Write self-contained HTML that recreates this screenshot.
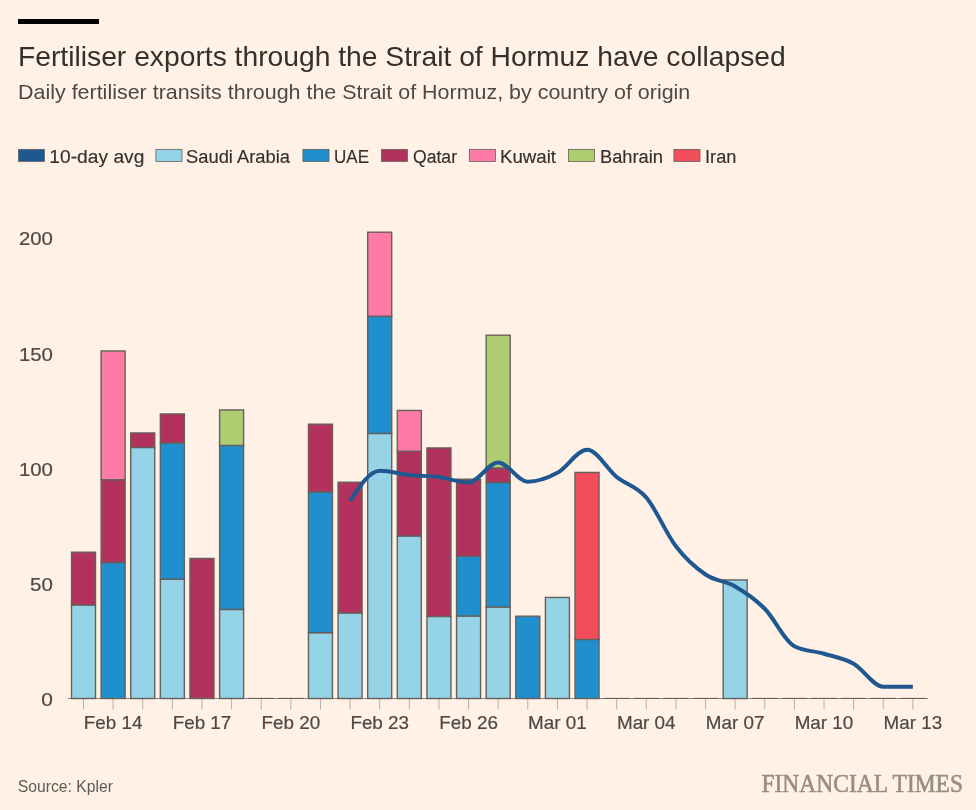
<!DOCTYPE html><html><head><meta charset="utf-8"><title>Fertiliser exports through the Strait of Hormuz have collapsed</title>
<style>html,body{margin:0;padding:0;background:#FFF1E5}svg{display:block}text{font-family:"Liberation Sans",sans-serif}.ft{font-family:"Liberation Serif",serif}</style></head><body>
<svg width="976" height="810" viewBox="0 0 976 810">
<rect width="976" height="810" fill="#FFF1E5"/>
<rect x="18" y="19" width="81" height="5" fill="#000"/>
<text x="18" y="65.6" font-size="27.8" fill="#33302E" textLength="767.7" lengthAdjust="spacingAndGlyphs">Fertiliser exports through the Strait of Hormuz have collapsed</text>
<text x="18" y="98.5" font-size="19.8" fill="#4D4845" textLength="672.3" lengthAdjust="spacingAndGlyphs">Daily fertiliser transits through the Strait of Hormuz, by country of origin</text>
<rect x="18.4" y="149.35" width="26.1" height="12.05" fill="#1F5791" stroke="#66605C" stroke-width="0.8"/>
<text x="49.35" y="162.5" font-size="18.8" fill="#33302E" stroke="#33302E" stroke-width="0.15" textLength="95.0" lengthAdjust="spacingAndGlyphs">10-day avg</text>
<rect x="155.9" y="149.35" width="26.1" height="12.05" fill="#95D3E6" stroke="#66605C" stroke-width="0.8"/>
<text x="186" y="162.5" font-size="18.8" fill="#33302E" stroke="#33302E" stroke-width="0.15" textLength="104" lengthAdjust="spacingAndGlyphs">Saudi Arabia</text>
<rect x="302.9" y="149.35" width="26.1" height="12.05" fill="#208FCE" stroke="#66605C" stroke-width="0.8"/>
<text x="334" y="162.5" font-size="18.8" fill="#33302E" stroke="#33302E" stroke-width="0.15" textLength="35" lengthAdjust="spacingAndGlyphs">UAE</text>
<rect x="381.4" y="149.35" width="26.1" height="12.05" fill="#B3325D" stroke="#66605C" stroke-width="0.8"/>
<text x="413" y="162.5" font-size="18.8" fill="#33302E" stroke="#33302E" stroke-width="0.15" textLength="44" lengthAdjust="spacingAndGlyphs">Qatar</text>
<rect x="469.4" y="149.35" width="26.1" height="12.05" fill="#FF7AA6" stroke="#66605C" stroke-width="0.8"/>
<text x="500" y="162.5" font-size="18.8" fill="#33302E" stroke="#33302E" stroke-width="0.15" textLength="56" lengthAdjust="spacingAndGlyphs">Kuwait</text>
<rect x="568.4" y="149.35" width="26.1" height="12.05" fill="#AECC70" stroke="#66605C" stroke-width="0.8"/>
<text x="600" y="162.5" font-size="18.8" fill="#33302E" stroke="#33302E" stroke-width="0.15" textLength="63" lengthAdjust="spacingAndGlyphs">Bahrain</text>
<rect x="673.9" y="149.35" width="26.1" height="12.05" fill="#F34D5B" stroke="#66605C" stroke-width="0.8"/>
<text x="705" y="162.5" font-size="18.8" fill="#33302E" stroke="#33302E" stroke-width="0.15" textLength="31.4" lengthAdjust="spacingAndGlyphs">Iran</text>
<text x="18.9" y="244.79999999999998" font-size="18.8" fill="#4D4845" stroke="#4D4845" stroke-width="0.2" textLength="34" lengthAdjust="spacingAndGlyphs">200</text>
<text x="18.9" y="360.59999999999997" font-size="18.8" fill="#4D4845" stroke="#4D4845" stroke-width="0.2" textLength="34" lengthAdjust="spacingAndGlyphs">150</text>
<text x="18.9" y="475.59999999999997" font-size="18.8" fill="#4D4845" stroke="#4D4845" stroke-width="0.2" textLength="34" lengthAdjust="spacingAndGlyphs">100</text>
<text x="30.099999999999998" y="590.6" font-size="18.8" fill="#4D4845" stroke="#4D4845" stroke-width="0.2" textLength="22.8" lengthAdjust="spacingAndGlyphs">50</text>
<text x="41.3" y="705.6" font-size="18.8" fill="#4D4845" stroke="#4D4845" stroke-width="0.2" textLength="11.6" lengthAdjust="spacingAndGlyphs">0</text>
<g stroke="#B8B0A8" stroke-width="1">
<line x1="83.50" x2="83.50" y1="698.5" y2="709.5"/>
<line x1="113.12" x2="113.12" y1="698.5" y2="709.5"/>
<line x1="142.74" x2="142.74" y1="698.5" y2="709.5"/>
<line x1="172.36" x2="172.36" y1="698.5" y2="709.5"/>
<line x1="201.98" x2="201.98" y1="698.5" y2="709.5"/>
<line x1="231.60" x2="231.60" y1="698.5" y2="709.5"/>
<line x1="261.22" x2="261.22" y1="698.5" y2="709.5"/>
<line x1="290.84" x2="290.84" y1="698.5" y2="709.5"/>
<line x1="320.46" x2="320.46" y1="698.5" y2="709.5"/>
<line x1="350.08" x2="350.08" y1="698.5" y2="709.5"/>
<line x1="379.70" x2="379.70" y1="698.5" y2="709.5"/>
<line x1="409.32" x2="409.32" y1="698.5" y2="709.5"/>
<line x1="438.94" x2="438.94" y1="698.5" y2="709.5"/>
<line x1="468.56" x2="468.56" y1="698.5" y2="709.5"/>
<line x1="498.18" x2="498.18" y1="698.5" y2="709.5"/>
<line x1="527.80" x2="527.80" y1="698.5" y2="709.5"/>
<line x1="557.42" x2="557.42" y1="698.5" y2="709.5"/>
<line x1="587.04" x2="587.04" y1="698.5" y2="709.5"/>
<line x1="616.66" x2="616.66" y1="698.5" y2="709.5"/>
<line x1="646.28" x2="646.28" y1="698.5" y2="709.5"/>
<line x1="675.90" x2="675.90" y1="698.5" y2="709.5"/>
<line x1="705.52" x2="705.52" y1="698.5" y2="709.5"/>
<line x1="735.14" x2="735.14" y1="698.5" y2="709.5"/>
<line x1="764.76" x2="764.76" y1="698.5" y2="709.5"/>
<line x1="794.38" x2="794.38" y1="698.5" y2="709.5"/>
<line x1="824.00" x2="824.00" y1="698.5" y2="709.5"/>
<line x1="853.62" x2="853.62" y1="698.5" y2="709.5"/>
<line x1="883.24" x2="883.24" y1="698.5" y2="709.5"/>
<line x1="912.86" x2="912.86" y1="698.5" y2="709.5"/>
</g>
<line x1="68" x2="928.2" y1="698.5" y2="698.5" stroke="#8C857F" stroke-width="1"/>
<g stroke="#66605C" stroke-width="1.4">
<rect x="71.50" y="604.95" width="24" height="93.55" fill="#95D3E6"/>
<rect x="71.50" y="552.20" width="24" height="52.75" fill="#B3325D"/>
<rect x="101.12" y="562.45" width="24" height="136.05" fill="#208FCE"/>
<rect x="101.12" y="479.70" width="24" height="82.75" fill="#B3325D"/>
<rect x="101.12" y="350.95" width="24" height="128.75" fill="#FF7AA6"/>
<rect x="130.74" y="447.45" width="24" height="251.05" fill="#95D3E6"/>
<rect x="130.74" y="432.95" width="24" height="14.50" fill="#B3325D"/>
<rect x="160.36" y="579.20" width="24" height="119.30" fill="#95D3E6"/>
<rect x="160.36" y="442.95" width="24" height="136.25" fill="#208FCE"/>
<rect x="160.36" y="413.95" width="24" height="29.00" fill="#B3325D"/>
<rect x="189.98" y="558.45" width="24" height="140.05" fill="#B3325D"/>
<rect x="219.60" y="609.45" width="24" height="89.05" fill="#95D3E6"/>
<rect x="219.60" y="445.45" width="24" height="164.00" fill="#208FCE"/>
<rect x="219.60" y="409.95" width="24" height="35.50" fill="#AECC70"/>
<line x1="248.52" x2="273.92" y1="698.4" y2="698.4" stroke-width="1.1"/>
<line x1="278.14" x2="303.54" y1="698.4" y2="698.4" stroke-width="1.1"/>
<rect x="308.46" y="632.70" width="24" height="65.80" fill="#95D3E6"/>
<rect x="308.46" y="491.95" width="24" height="140.75" fill="#208FCE"/>
<rect x="308.46" y="424.20" width="24" height="67.75" fill="#B3325D"/>
<rect x="338.08" y="612.95" width="24" height="85.55" fill="#95D3E6"/>
<rect x="338.08" y="482.20" width="24" height="130.75" fill="#B3325D"/>
<rect x="367.70" y="433.45" width="24" height="265.05" fill="#95D3E6"/>
<rect x="367.70" y="316.20" width="24" height="117.25" fill="#208FCE"/>
<rect x="367.70" y="232.20" width="24" height="84.00" fill="#FF7AA6"/>
<rect x="397.32" y="535.95" width="24" height="162.55" fill="#95D3E6"/>
<rect x="397.32" y="451.20" width="24" height="84.75" fill="#B3325D"/>
<rect x="397.32" y="410.45" width="24" height="40.75" fill="#FF7AA6"/>
<rect x="426.94" y="616.45" width="24" height="82.05" fill="#95D3E6"/>
<rect x="426.94" y="447.95" width="24" height="168.50" fill="#B3325D"/>
<rect x="456.56" y="615.95" width="24" height="82.55" fill="#95D3E6"/>
<rect x="456.56" y="556.20" width="24" height="59.75" fill="#208FCE"/>
<rect x="456.56" y="479.20" width="24" height="77.00" fill="#B3325D"/>
<rect x="486.18" y="606.95" width="24" height="91.55" fill="#95D3E6"/>
<rect x="486.18" y="482.45" width="24" height="124.50" fill="#208FCE"/>
<rect x="486.18" y="467.95" width="24" height="14.50" fill="#B3325D"/>
<rect x="486.18" y="335.20" width="24" height="132.75" fill="#AECC70"/>
<rect x="515.80" y="616.20" width="24" height="82.30" fill="#208FCE"/>
<rect x="545.42" y="597.45" width="24" height="101.05" fill="#95D3E6"/>
<rect x="575.04" y="639.45" width="24" height="59.05" fill="#208FCE"/>
<rect x="575.04" y="472.45" width="24" height="167.00" fill="#F34D5B"/>
<line x1="603.96" x2="629.36" y1="698.4" y2="698.4" stroke-width="1.1"/>
<line x1="633.58" x2="658.98" y1="698.4" y2="698.4" stroke-width="1.1"/>
<line x1="663.20" x2="688.60" y1="698.4" y2="698.4" stroke-width="1.1"/>
<line x1="692.82" x2="718.22" y1="698.4" y2="698.4" stroke-width="1.1"/>
<rect x="723.14" y="579.95" width="24" height="118.55" fill="#95D3E6"/>
<line x1="752.06" x2="777.46" y1="698.4" y2="698.4" stroke-width="1.1"/>
<line x1="781.68" x2="807.08" y1="698.4" y2="698.4" stroke-width="1.1"/>
<line x1="811.30" x2="836.70" y1="698.4" y2="698.4" stroke-width="1.1"/>
<line x1="840.92" x2="866.32" y1="698.4" y2="698.4" stroke-width="1.1"/>
<line x1="870.54" x2="895.94" y1="698.4" y2="698.4" stroke-width="1.1"/>
<line x1="900.16" x2="925.56" y1="698.4" y2="698.4" stroke-width="1.1"/>
</g>
<path d="M350.08,500.80C359.95,485.78,369.83,470.75,379.70,470.75C389.57,470.75,399.45,473.96,409.32,475.00C419.19,476.04,429.07,475.75,438.94,477.00C448.81,478.25,458.69,482.50,468.56,482.50C478.43,482.50,488.31,462.50,498.18,462.50C508.05,462.50,517.93,481.75,527.80,481.75C537.67,481.75,547.55,478.13,557.42,472.80C567.29,467.48,577.17,449.80,587.04,449.80C596.91,449.80,606.79,469.05,616.66,477.00C626.53,484.95,636.41,485.96,646.28,497.50C656.15,509.04,666.03,533.42,675.90,546.25C685.77,559.08,695.65,567.79,705.52,574.50C715.39,581.21,725.27,580.79,735.14,586.50C745.01,592.21,754.89,598.79,764.76,608.75C774.63,618.71,784.51,641.25,794.38,646.25C804.25,651.25,814.13,650.83,824.00,653.75C833.87,656.67,843.75,658.25,853.62,663.75C863.49,669.25,873.37,686.75,883.24,686.75C893.11,686.75,902.99,686.75,912.86,686.75" fill="none" stroke="#1F5791" stroke-width="4" stroke-linejoin="round"/>
<text x="83.82" y="729.0" font-size="18.6" fill="#4D4845" stroke="#4D4845" stroke-width="0.2" textLength="58.6" lengthAdjust="spacingAndGlyphs">Feb 14</text>
<text x="172.68" y="729.0" font-size="18.6" fill="#4D4845" stroke="#4D4845" stroke-width="0.2" textLength="58.6" lengthAdjust="spacingAndGlyphs">Feb 17</text>
<text x="261.54" y="729.0" font-size="18.6" fill="#4D4845" stroke="#4D4845" stroke-width="0.2" textLength="58.6" lengthAdjust="spacingAndGlyphs">Feb 20</text>
<text x="350.4" y="729.0" font-size="18.6" fill="#4D4845" stroke="#4D4845" stroke-width="0.2" textLength="58.6" lengthAdjust="spacingAndGlyphs">Feb 23</text>
<text x="439.26" y="729.0" font-size="18.6" fill="#4D4845" stroke="#4D4845" stroke-width="0.2" textLength="58.6" lengthAdjust="spacingAndGlyphs">Feb 26</text>
<text x="528.12" y="729.0" font-size="18.6" fill="#4D4845" stroke="#4D4845" stroke-width="0.2" textLength="58.6" lengthAdjust="spacingAndGlyphs">Mar 01</text>
<text x="616.98" y="729.0" font-size="18.6" fill="#4D4845" stroke="#4D4845" stroke-width="0.2" textLength="58.6" lengthAdjust="spacingAndGlyphs">Mar 04</text>
<text x="705.84" y="729.0" font-size="18.6" fill="#4D4845" stroke="#4D4845" stroke-width="0.2" textLength="58.6" lengthAdjust="spacingAndGlyphs">Mar 07</text>
<text x="794.7" y="729.0" font-size="18.6" fill="#4D4845" stroke="#4D4845" stroke-width="0.2" textLength="58.6" lengthAdjust="spacingAndGlyphs">Mar 10</text>
<text x="883.56" y="729.0" font-size="18.6" fill="#4D4845" stroke="#4D4845" stroke-width="0.2" textLength="58.6" lengthAdjust="spacingAndGlyphs">Mar 13</text>
<text x="17.8" y="792" font-size="16.5" fill="#5F5955" textLength="95.1" lengthAdjust="spacingAndGlyphs">Source: Kpler</text>
<text x="761.5" y="792" font-size="25" fill="#968E87" stroke="#968E87" stroke-width="0.6" textLength="201.5" lengthAdjust="spacingAndGlyphs" class="ft">FINANCIAL TIMES</text>
</svg></body></html>
